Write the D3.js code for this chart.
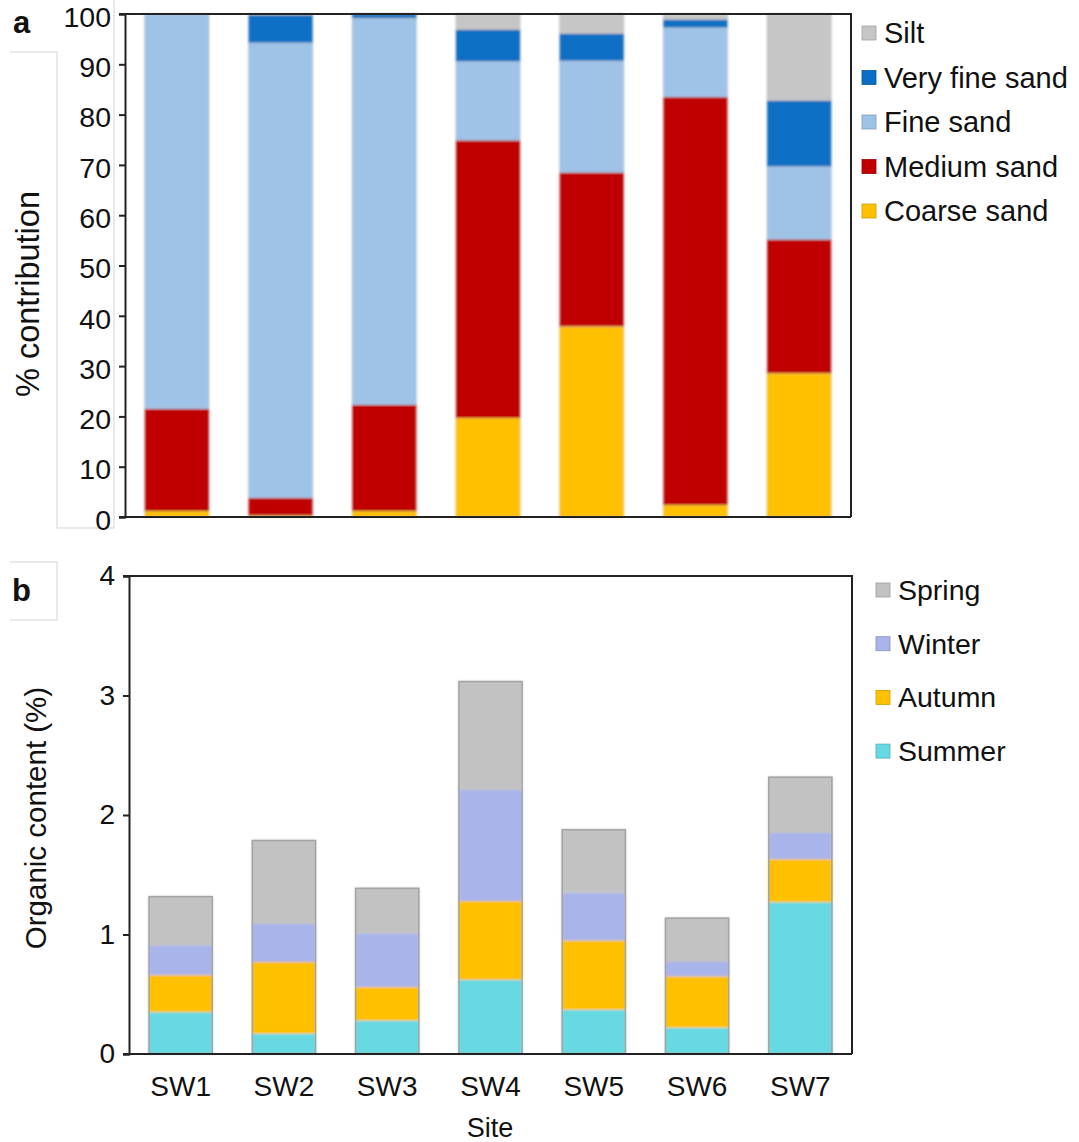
<!DOCTYPE html>
<html>
<head>
<meta charset="utf-8">
<script src="https://cdn.jsdelivr.net/npm/d3@7"></script>
<style>
  html, body { margin: 0; padding: 0; background: #fff; }
  svg { display: block; font-family: "Liberation Sans", Arial, sans-serif; }
</style>
</head>
<body>
<svg id="fig" width="1079" height="1142"></svg>
<script>
// Sites along the x axis
const sites = ["SW1", "SW2", "SW3", "SW4", "SW5", "SW6", "SW7"];

// Panel a: grain-size composition (% of sample), stacked bottom to top
const sizeClasses = ["Coarse sand", "Medium sand", "Fine sand", "Very fine sand", "Silt"];
const coarseSand   = [1.2, 0.3, 1.2, 19.7, 37.9, 2.4, 28.6];
const mediumSand   = [20.3, 3.5, 21.1, 55.2, 30.6, 81.1, 26.6];
const fineSand     = [78.5, 90.5, 76.9, 15.7, 22.2, 13.8, 14.5];
const veryFineSand = [0, 5.5, 0.8, 6.3, 5.4, 1.6, 13.1];
const silt         = [0, 0.2, 0, 3.1, 3.9, 1.1, 17.2];
const contributionTicks = [0, 10, 20, 30, 40, 50, 60, 70, 80, 90, 100];

// Panel b: organic content (%) by season, stacked bottom to top
const seasons = ["Summer", "Autumn", "Winter", "Spring"];
const summer = [0.35, 0.17, 0.28, 0.62, 0.37, 0.22, 1.27];
const autumn = [0.31, 0.60, 0.28, 0.66, 0.58, 0.43, 0.36];
const winter = [0.25, 0.32, 0.45, 0.93, 0.40, 0.12, 0.22];
const spring = [0.41, 0.70, 0.38, 0.91, 0.53, 0.37, 0.47];
const organicTicks = [0, 1, 2, 3, 4];

const sizeColors = {
  "Coarse sand": "#ffc000",
  "Medium sand": "#c00000",
  "Fine sand": "#9fc3e7",
  "Very fine sand": "#0a6fc4",
  "Silt": "#c6c6c6"
};
const seasonColors = {
  "Summer": "#66d9e3",
  "Autumn": "#ffc000",
  "Winter": "#a8b4ea",
  "Spring": "#c2c2c2"
};

const svg = d3.select("#fig");

// soft edges between stacked segments
const defs = svg.append("defs");
defs.append("filter").attr("id", "soft")
  .attr("x", "-5%").attr("y", "-5%").attr("width", "110%").attr("height", "110%")
  .append("feGaussianBlur").attr("stdDeviation", 0.9);

function stackRows(series, keys) {
  return sites.map((s, i) => {
    const row = { site: s };
    keys.forEach((k, j) => row[k] = series[j][i]);
    return row;
  });
}

function panel(opts) {
  const { left, right, top, bottom, rows, keys, colors, yMax, ticks,
          barStroke, outline, tickFont, tickDy } = opts;
  const g = svg.append("g");
  const x = d3.scaleBand().domain(sites).range([left, right])
    .paddingInner(0.38).paddingOuter(0.19);
  const y = d3.scaleLinear().domain([0, yMax]).range([bottom, top]);
  const stacked = d3.stack().keys(keys)(rows);

  const bars = g.append("g").attr("filter", "url(#soft)");
  stacked.forEach(layer => {
    bars.append("g").selectAll("rect").data(layer).join("rect")
      .attr("x", d => x(d.data.site))
      .attr("width", x.bandwidth())
      .attr("y", d => y(d[1]))
      .attr("height", d => Math.max(0, y(d[0]) - y(d[1])))
      .attr("fill", colors[layer.key])
      .attr("stroke", barStroke)
      .attr("stroke-width", 0.8);
  });
  if (outline) {
    const totals = rows.map(r => ({ site: r.site, total: d3.sum(keys, k => r[k]) }));
    g.append("g").selectAll("rect").data(totals).join("rect")
      .attr("x", d => x(d.site) + 0.5)
      .attr("width", x.bandwidth() - 1)
      .attr("y", d => y(d.total) + 0.5)
      .attr("height", d => y(0) - y(d.total) - 1)
      .attr("fill", "none")
      .attr("stroke", outline)
      .attr("stroke-width", 1.6);
  }

  // frame: top and right edges
  g.append("path")
    .attr("d", `M${left - 6},${top}H${right}V${bottom}`)
    .attr("fill", "none").attr("stroke", "#222").attr("stroke-width", 2);

  const yAxis = g.append("g").attr("transform", `translate(${left},0)`)
    .call(d3.axisLeft(y).tickValues(ticks).tickSize(6).tickPadding(8).tickFormat(d3.format("d")));
  yAxis.select(".domain").attr("stroke", "#222").attr("stroke-width", 2);
  yAxis.selectAll(".tick line").attr("stroke", "#222").attr("stroke-width", 2);
  yAxis.selectAll(".tick text").attr("font-size", tickFont).attr("fill", "#111")
    .attr("dy", tickDy)
    .attr("font-family", "Liberation Sans, Arial, sans-serif");

  const xAxis = g.append("g").attr("transform", `translate(0,${bottom})`)
    .call(d3.axisBottom(x).tickSize(0).tickPadding(opts.xLabels ? 22 : 0));
  xAxis.select(".domain").attr("d", `M${left - 6},0H${right}`)
    .attr("stroke", "#222").attr("stroke-width", 2);
  if (opts.xLabels) {
    xAxis.selectAll(".tick text").attr("font-size", 28).attr("fill", "#111")
      .attr("font-family", "Liberation Sans, Arial, sans-serif");
  } else {
    xAxis.selectAll(".tick text").remove();
  }
  return { x, y };
}

function legend(items, colors, x0, y0, dy, fontSize) {
  const g = svg.append("g");
  const it = g.selectAll("g").data(items).join("g")
    .attr("transform", (d, i) => `translate(${x0},${y0 + i * dy})`);
  it.append("rect").attr("x", 0).attr("y", -7).attr("width", 14).attr("height", 14)
    .attr("fill", d => colors[d]).attr("stroke", d => d3.color(colors[d]).darker(0.6))
    .attr("stroke-width", 0.8);
  it.append("text").attr("x", 22).attr("y", 0).attr("dy", "0.35em")
    .attr("font-size", fontSize).attr("fill", "#111").text(d => d);
}

// faint borders of the panel label boxes
const boxes = svg.append("g").attr("stroke", "#e2e2e2").attr("fill", "none").attr("stroke-width", 1.5);
boxes.append("path").attr("d", "M10,52H57V528H114V0");
boxes.append("path").attr("d", "M10,562H57V620H10");

// Panel a
panel({
  left: 125, right: 851, top: 14, bottom: 517,
  rows: stackRows([coarseSand, mediumSand, fineSand, veryFineSand, silt], sizeClasses),
  keys: sizeClasses, colors: sizeColors, yMax: 100, ticks: contributionTicks,
  barStroke: "rgba(170,170,170,0.45)", outline: null, xLabels: false,
  tickFont: 28.5, tickDy: "0.43em"
});
legend(sizeClasses.slice().reverse(), sizeColors, 862, 33, 44.5, 29);

svg.append("text").attr("x", 13).attr("y", 33).attr("font-size", 31)
  .attr("font-weight", "bold").attr("fill", "#111").text("a");
svg.append("text")
  .attr("transform", "translate(39,294) rotate(-90)")
  .attr("text-anchor", "middle").attr("font-size", 32.5).attr("fill", "#111")
  .text("% contribution");

// Panel b
panel({
  left: 129, right: 852, top: 576, bottom: 1054,
  rows: stackRows([summer, autumn, winter, spring], seasons),
  keys: seasons, colors: seasonColors, yMax: 4, ticks: organicTicks,
  barStroke: "none", outline: "#a4a4a4", xLabels: true,
  tickFont: 28, tickDy: "0.32em"
});
legend(seasons.slice().reverse(), seasonColors, 876, 590, 53.7, 28.5);

svg.append("text").attr("x", 12).attr("y", 601).attr("font-size", 31)
  .attr("font-weight", "bold").attr("fill", "#111").text("b");
svg.append("text")
  .attr("transform", "translate(46,818) rotate(-90)")
  .attr("text-anchor", "middle").attr("font-size", 29.5).attr("fill", "#111")
  .text("Organic content (%)");
svg.append("text").attr("x", 490).attr("y", 1137)
  .attr("text-anchor", "middle").attr("font-size", 27).attr("fill", "#111")
  .text("Site");
</script>
</body>
</html>
